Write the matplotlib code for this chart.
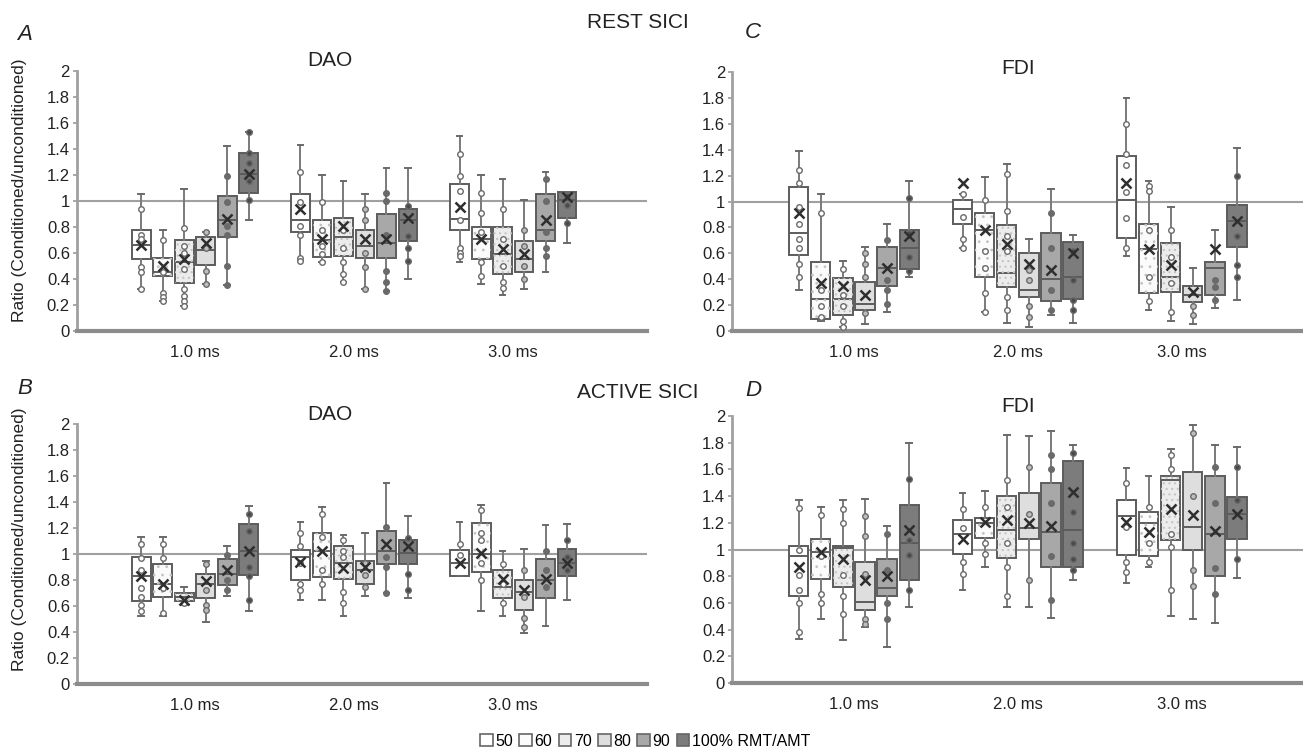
import matplotlib.pyplot as plt
from matplotlib.patches import Patch, PathPatch
import numpy as np

plt.rcParams['font.family'] = ['Liberation Sans', 'DejaVu Sans']
plt.rcParams['hatch.linewidth'] = 0.8

isi_labels = ['1.0 ms', '2.0 ms', '3.0 ms']
intensity_labels = ['50', '60', '70', '80', '90', '100% RMT/AMT']
y_ticks = [0, 0.2, 0.4, 0.6, 0.8, 1, 1.2, 1.4, 1.6, 1.8, 2]
y_tick_labels = ['0', '0.2', '0.4', '0.6', '0.8', '1', '1.2', '1.4', '1.6', '1.8', '2']

# ---- A: REST SICI, DAO  (rows = ISI, cols = intensity 50..100)
A_lo = [[0.32, 0.23, 0.19, 0.36, 0.35, 0.85], [0.54, 0.53, 0.38, 0.32, 0.31, 0.40], [0.53, 0.36, 0.28, 0.32, 0.45, 0.68]]
A_q1 = [[0.55, 0.42, 0.37, 0.51, 0.72, 1.06], [0.76, 0.57, 0.58, 0.56, 0.56, 0.69], [0.78, 0.55, 0.44, 0.45, 0.69, 0.87]]
A_med = [[0.66, 0.45, 0.53, 0.62, 0.85, 1.21], [0.85, 0.70, 0.72, 0.65, 0.68, 0.85], [0.86, 0.71, 0.59, 0.55, 0.78, 1.01]]
A_q3 = [[0.78, 0.56, 0.70, 0.72, 1.04, 1.37], [1.05, 0.85, 0.87, 0.78, 0.90, 0.94], [1.13, 0.80, 0.80, 0.69, 1.05, 1.07]]
A_hi = [[1.05, 0.78, 1.09, 0.76, 1.42, 1.53], [1.43, 1.20, 1.15, 1.05, 1.25, 1.25], [1.50, 1.20, 1.17, 1.01, 1.22, 1.07]]
A_mean = [[0.66, 0.50, 0.55, 0.68, 0.86, 1.21], [0.94, 0.71, 0.81, 0.71, 0.71, 0.87], [0.95, 0.71, 0.63, 0.59, 0.85, 1.03]]
A_pts = [
    [[0.94, 0.74, 0.71, 0.49, 0.45, 0.32], [0.70, 0.45, 0.29, 0.26, 0.23], [0.79, 0.65, 0.60, 0.48, 0.32, 0.27, 0.23, 0.19],
     [0.64, 0.46, 0.36, 0.76], [1.19, 0.99, 0.81, 0.74, 0.50, 0.35], [1.29, 1.15, 1.01, 1.37, 1.53]],
    [[1.22, 0.99, 0.81, 0.74, 0.56, 0.54], [0.99, 0.78, 0.65, 0.59, 0.53], [0.78, 0.64, 0.53, 0.44, 0.38],
     [0.94, 0.85, 0.60, 0.49, 0.32], [1.06, 1.00, 0.74, 0.46, 0.38, 0.31], [0.96, 0.73, 0.64, 0.54]],
    [[1.36, 1.19, 1.08, 0.85, 0.64, 0.60, 0.58], [1.06, 0.91, 0.76, 0.53, 0.42], [0.94, 0.71, 0.50, 0.38, 0.33],
     [0.78, 0.65, 0.50, 0.40], [1.17, 1.00, 0.76, 0.64, 0.58], [1.04, 0.97, 0.83]],
]

# ---- B: ACTIVE SICI, DAO
B_lo = [[0.52, 0.52, 0.61, 0.48, 0.68, 0.56], [0.65, 0.65, 0.52, 0.68, 0.70, 0.66], [0.83, 0.56, 0.52, 0.39, 0.45, 0.65]]
B_q1 = [[0.64, 0.67, 0.64, 0.66, 0.76, 0.84], [0.80, 0.82, 0.81, 0.77, 0.92, 0.92], [0.83, 0.86, 0.66, 0.57, 0.66, 0.83]]
B_med = [[0.83, 0.77, 0.67, 0.77, 0.85, 1.02], [0.98, 1.02, 0.93, 0.88, 1.02, 1.01], [0.93, 1.00, 0.75, 0.71, 0.80, 0.93]]
B_q3 = [[0.98, 0.92, 0.70, 0.85, 0.96, 1.23], [1.03, 1.16, 1.06, 0.95, 1.18, 1.11], [1.03, 1.24, 0.88, 0.80, 0.96, 1.04]]
B_hi = [[1.13, 1.13, 0.75, 0.95, 1.06, 1.37], [1.25, 1.36, 1.15, 1.16, 1.55, 1.29], [1.25, 1.38, 1.02, 1.04, 1.22, 1.23]]
B_mean = [[0.83, 0.77, 0.65, 0.79, 0.88, 1.02], [0.94, 1.02, 0.89, 0.90, 1.08, 1.06], [0.93, 1.01, 0.81, 0.72, 0.81, 0.93]]
B_pts = [
    [[1.08, 0.97, 0.88, 0.74, 0.67, 0.61, 0.56], [1.08, 0.97, 0.74, 0.55], [0.62], [0.92, 0.72, 0.61, 0.57],
     [0.99, 0.80, 0.72], [1.31, 1.18, 0.90, 0.83, 0.65]],
    [[1.16, 1.06, 0.93, 0.77, 0.72], [1.31, 1.13, 0.88, 0.77], [1.11, 1.02, 0.98, 0.71, 0.62], [0.93, 0.84, 0.75],
     [1.21, 0.98, 0.90, 0.70], [1.12, 0.85, 0.72]],
    [[1.08, 0.99], [1.34, 1.16, 1.11, 0.93, 0.80], [0.92, 0.77, 0.62], [0.88, 0.67, 0.51, 0.44],
     [1.02, 0.88, 0.75], [1.11, 0.98, 0.88]],
]

# ---- C: REST SICI, FDI
C_lo = [[0.32, 0.08, 0.03, 0.05, 0.15, 0.42], [0.64, 0.15, 0.06, 0.03, 0.12, 0.06], [0.58, 0.16, 0.08, 0.05, 0.18, 0.24]]
C_q1 = [[0.59, 0.09, 0.12, 0.16, 0.35, 0.48], [0.83, 0.42, 0.34, 0.26, 0.23, 0.25], [0.72, 0.29, 0.30, 0.22, 0.28, 0.65]]
C_med = [[0.76, 0.25, 0.25, 0.21, 0.49, 0.64], [0.94, 0.78, 0.45, 0.32, 0.40, 0.42], [1.01, 0.63, 0.42, 0.28, 0.49, 0.85]]
C_q3 = [[1.11, 0.53, 0.41, 0.38, 0.65, 0.78], [1.01, 0.91, 0.82, 0.60, 0.76, 0.69], [1.35, 0.83, 0.68, 0.35, 0.53, 0.97]]
C_hi = [[1.39, 1.06, 0.54, 0.65, 0.83, 1.16], [1.06, 1.19, 1.29, 0.71, 1.10, 0.74], [1.80, 1.16, 0.96, 0.49, 0.78, 1.41]]
C_mean = [[0.91, 0.37, 0.35, 0.28, 0.49, 0.73], [1.14, 0.78, 0.67, 0.52, 0.47, 0.60], [1.14, 0.63, 0.51, 0.30, 0.63, 0.85]]
C_pts = [
    [[1.24, 1.14, 0.96, 0.83, 0.71, 0.64, 0.52, 0.42], [0.91, 0.32, 0.19, 0.11], [0.48, 0.28, 0.19, 0.08, 0.03],
     [0.60, 0.52, 0.42, 0.14], [0.70, 0.39, 0.32, 0.21], [1.03, 0.76, 0.57, 0.46]],
    [[1.06, 0.88, 0.71, 0.64], [1.01, 0.62, 0.49, 0.29, 0.15], [1.21, 0.93, 0.73, 0.62, 0.26, 0.16],
     [0.47, 0.39, 0.19, 0.11], [0.91, 0.64, 0.32, 0.16], [0.62, 0.39, 0.24, 0.16]],
    [[1.60, 1.37, 1.28, 1.07, 0.87, 0.64], [1.12, 1.08, 0.78, 0.42, 0.23], [0.78, 0.57, 0.37, 0.15],
     [0.19, 0.12], [0.39, 0.34, 0.24], [1.20, 0.73, 0.51, 0.42]],
]

# ---- D: ACTIVE SICI, FDI
D_lo = [[0.33, 0.48, 0.32, 0.42, 0.27, 0.57], [0.70, 0.87, 0.57, 0.57, 0.49, 0.77], [0.75, 0.87, 0.50, 0.48, 0.45, 0.79]]
D_q1 = [[0.65, 0.78, 0.72, 0.55, 0.65, 0.77], [0.97, 1.09, 0.94, 1.08, 0.87, 0.87], [0.96, 0.95, 1.07, 1.00, 0.80, 1.08]]
D_med = [[0.95, 0.98, 1.01, 0.61, 0.71, 1.05], [1.12, 1.20, 1.15, 1.16, 1.13, 1.15], [1.25, 1.20, 1.52, 1.17, 1.12, 1.27]]
D_q3 = [[1.03, 1.08, 1.03, 0.91, 0.93, 1.33], [1.22, 1.24, 1.40, 1.42, 1.50, 1.66], [1.37, 1.28, 1.55, 1.58, 1.55, 1.39]]
D_hi = [[1.37, 1.32, 1.37, 1.38, 1.18, 1.80], [1.42, 1.44, 1.86, 1.85, 1.89, 1.78], [1.61, 1.55, 1.75, 1.93, 1.78, 1.77]]
D_mean = [[0.87, 0.98, 0.93, 0.77, 0.80, 1.15], [1.08, 1.21, 1.22, 1.20, 1.18, 1.43], [1.21, 1.13, 1.30, 1.26, 1.14, 1.27]]
D_pts = [
    [[1.31, 1.00, 0.81, 0.70, 0.60, 0.38], [1.26, 0.95, 0.67, 0.60], [1.30, 1.20, 0.81, 0.65, 0.52],
     [1.25, 1.10, 0.82, 0.48, 0.44], [1.12, 0.85, 0.60, 0.48], [1.53, 1.07, 0.96, 0.70]],
    [[1.30, 1.16, 0.91, 0.82], [1.32, 1.05, 0.97], [1.52, 1.32, 1.05, 0.87, 0.65], [1.62, 1.27, 0.77],
     [1.71, 1.60, 1.35, 0.95, 0.62], [1.72, 1.28, 1.05, 0.93, 0.85]],
    [[1.50, 1.17, 0.91, 0.83], [1.32, 1.05, 0.91], [1.71, 1.60, 1.12, 1.02, 0.70], [1.87, 1.40, 0.85, 0.73],
     [1.62, 1.35, 0.86, 0.67], [1.62, 1.37, 0.93]],
]

fills = ['#ffffff', '#fbfbfb', '#ececec', '#dedede', '#a8a8a8', '#7c7c7c']
hatches = [None, '..', '...', None, None, None]
pt_face = ['white', 'white', 'white', '#bdbdbd', '#6a6a6a', '#4a4a4a']
edge = '#5c5c5c'
step = 0.135


def draw_panel(ax, lo, q1, med, q3, hi, mean, pts, xlim):
    for g in range(3):
        pos = [g + (k - 2.5) * step for k in range(6)]
        stats = [dict(whislo=lo[g][k], q1=q1[g][k], med=med[g][k], q3=q3[g][k],
                      whishi=hi[g][k], mean=mean[g][k], fliers=[]) for k in range(6)]
        bp = ax.bxp(stats, positions=pos, widths=0.118, capwidths=0.035,
                    showmeans=True, patch_artist=True,
                    boxprops=dict(edgecolor=edge, linewidth=1.4),
                    medianprops=dict(color=edge, linewidth=1.4),
                    whiskerprops=dict(color='#7a7a7a', linewidth=1.4),
                    capprops=dict(color='#6a6a6a', linewidth=1.4),
                    meanprops=dict(marker='x', markeredgecolor='#2e2e2e', markersize=7, markeredgewidth=1.8))
        for k, box in enumerate(bp['boxes']):
            box.set_facecolor(fills[k])
            if hatches[k]:
                # light dotted texture on top of the fill
                ax.add_patch(PathPatch(box.get_path(), facecolor='none', edgecolor='#c4c4c4',
                                       linewidth=0, hatch=hatches[k], zorder=box.get_zorder() + 0.1))
        for m in bp['means']:
            m.set_zorder(5)
        for k in range(6):
            ax.plot([pos[k]] * len(pts[g][k]), pts[g][k], 'o', ms=4, mfc=pt_face[k],
                    mec='#6a6a6a', mew=1.0, zorder=4)
    ax.axhline(1, color='#a0a0a0', lw=1.5, zorder=1)
    ax.set_xlim(xlim)
    ax.set_ylim(0, 2)
    ax.set_yticks(y_ticks)
    ax.set_yticklabels(y_tick_labels, fontsize=12, color='#222222')
    ax.set_xticks([0, 1, 2])
    ax.set_xticklabels(isi_labels, fontsize=12, color='#222222')
    ax.tick_params(axis='x', length=0, pad=10)
    ax.tick_params(axis='y', length=3, width=1.2, color='#999999', pad=2)
    ax.spines['top'].set_visible(False)
    ax.spines['right'].set_visible(False)
    ax.spines['left'].set_color('#a0a0a0')
    ax.spines['left'].set_linewidth(2)
    ax.spines['bottom'].set_color('#8c8c8c')
    ax.spines['bottom'].set_linewidth(3)


fig = plt.figure(figsize=(13.03, 7.51), dpi=100)
axA = fig.add_axes([0.059, 0.5593, 0.4376, 0.3462])
axC = fig.add_axes([0.5618, 0.5593, 0.4382, 0.3447])
axB = fig.add_axes([0.059, 0.0892, 0.4376, 0.3462])
axD = fig.add_axes([0.5618, 0.0905, 0.4382, 0.3555])

draw_panel(axA, A_lo, A_q1, A_med, A_q3, A_hi, A_mean, A_pts, (-0.742, 2.84))
draw_panel(axB, B_lo, B_q1, B_med, B_q3, B_hi, B_mean, B_pts, (-0.742, 2.84))
draw_panel(axC, C_lo, C_q1, C_med, C_q3, C_hi, C_mean, C_pts, (-0.744, 2.74))
draw_panel(axD, D_lo, D_q1, D_med, D_q3, D_hi, D_mean, D_pts, (-0.744, 2.74))

# titles and labels
fig.text(330 / 1303, 1 - 60 / 751, 'DAO', fontsize=15, ha='center', va='center', color='#222222')
fig.text(1018 / 1303, 1 - 68 / 751, 'FDI', fontsize=15, ha='center', va='center', color='#222222')
fig.text(330 / 1303, 1 - 415 / 751, 'DAO', fontsize=15, ha='center', va='center', color='#222222')
fig.text(1018 / 1303, 1 - 407 / 751, 'FDI', fontsize=15, ha='center', va='center', color='#222222')
fig.text(638 / 1303, 1 - 23 / 751, 'REST SICI', fontsize=15, ha='center', va='center', color='#222222')
fig.text(638 / 1303, 1 - 392 / 751, 'ACTIVE SICI', fontsize=15, ha='center', va='center', color='#222222')
for letter, x, y in [('A', 25, 35), ('C', 753, 33), ('B', 25, 388), ('D', 753, 391)]:
    fig.text(x / 1303, 1 - y / 751, letter, fontsize=16, style='italic', ha='center', va='center', color='#222222')
fig.text(20 / 1303, 1 - 190 / 751, 'Ratio (Conditioned/unconditioned)', rotation=90,
         fontsize=12.5, ha='center', va='center', color='#222222')
fig.text(20 / 1303, 1 - 539 / 751, 'Ratio (Conditioned/unconditioned)', rotation=90,
         fontsize=12.5, ha='center', va='center', color='#222222')

handles = [Patch(facecolor=fills[k], edgecolor='#666666', linewidth=1.2) for k in range(6)]
fig.legend(handles, intensity_labels, loc='center', bbox_to_anchor=(645 / 1303, 1 - 741 / 751),
           ncol=6, frameon=False, fontsize=11.5, handlelength=0.8, handleheight=0.8,
           handletextpad=0.15, columnspacing=0.4, borderpad=0)

fig.savefig('out.png', dpi=100)
